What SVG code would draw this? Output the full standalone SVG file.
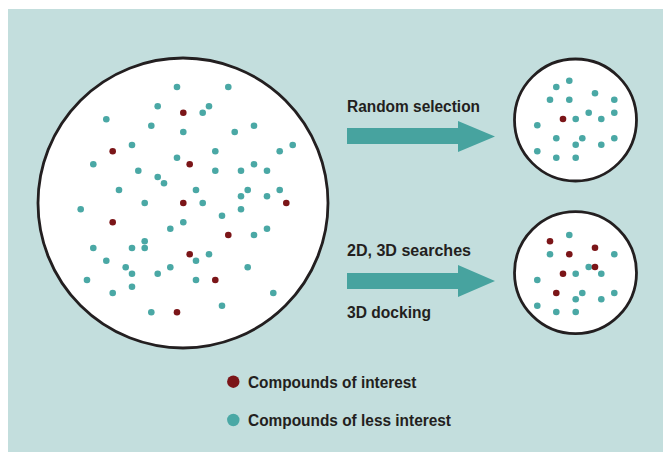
<svg xmlns="http://www.w3.org/2000/svg" width="663" height="452" viewBox="0 0 663 452">
<style>
.bg{fill:#c3dedd}
.pool{fill:#ffffff;stroke:#231f20;stroke-width:2.8}
.t{fill:#4aa8a5}
.r{fill:#7b1518}
.arrow{fill:#47a39f}
.lbl{font-family:"Liberation Sans Narrow","Liberation Sans",Arial,sans-serif;font-weight:bold;font-size:16px;fill:#231f20}
</style>
<defs>
<circle id="d" r="3.3"/>
</defs>
<rect class="bg" x="8" y="9" width="655" height="443"/>
<g id="library">
<circle class="pool" cx="183" cy="203" r="145"/>
<g class="t">
<use href="#d" x="177" y="87"/><use href="#d" x="157.7" y="106.3"/><use href="#d" x="106.3" y="119.3"/><use href="#d" x="151.3" y="125.7"/><use href="#d" x="183.3" y="132"/><use href="#d" x="132" y="145"/><use href="#d" x="177" y="157.7"/><use href="#d" x="93.3" y="164.3"/><use href="#d" x="138.3" y="170.7"/><use href="#d" x="157.7" y="177"/><use href="#d" x="164" y="183.3"/><use href="#d" x="119" y="190"/>
<use href="#d" x="228.3" y="87"/><use href="#d" x="209" y="106.3"/><use href="#d" x="202.7" y="112.7"/><use href="#d" x="234.7" y="132"/><use href="#d" x="254" y="125.7"/><use href="#d" x="215.3" y="151.3"/><use href="#d" x="279.7" y="151.3"/><use href="#d" x="292.7" y="145"/><use href="#d" x="215.3" y="170.7"/><use href="#d" x="241" y="170.7"/><use href="#d" x="254" y="164.3"/><use href="#d" x="267" y="170.7"/><use href="#d" x="196" y="190"/><use href="#d" x="247.7" y="190"/><use href="#d" x="279.7" y="190"/><use href="#d" x="241" y="196.3"/><use href="#d" x="267" y="196.3"/>
<use href="#d" x="144.7" y="203"/><use href="#d" x="80.7" y="209.3"/><use href="#d" x="183.3" y="222.3"/><use href="#d" x="170.3" y="228.7"/><use href="#d" x="144.7" y="241.3"/><use href="#d" x="93.3" y="248"/><use href="#d" x="132" y="248"/><use href="#d" x="144.7" y="248"/><use href="#d" x="106.3" y="260.7"/><use href="#d" x="125.7" y="267.3"/><use href="#d" x="132" y="273.7"/><use href="#d" x="157.7" y="273.7"/><use href="#d" x="170.3" y="267.3"/><use href="#d" x="87" y="280"/><use href="#d" x="132" y="286.7"/><use href="#d" x="112.7" y="293"/><use href="#d" x="151.3" y="312.3"/>
<use href="#d" x="202.7" y="203"/><use href="#d" x="222" y="215.7"/><use href="#d" x="241" y="209.3"/><use href="#d" x="254" y="235"/><use href="#d" x="267" y="228.7"/><use href="#d" x="209" y="254.3"/><use href="#d" x="196" y="260.7"/><use href="#d" x="247.7" y="267.3"/><use href="#d" x="196" y="280"/><use href="#d" x="273.3" y="293"/><use href="#d" x="222" y="305.7"/>
</g>
<g class="r">
<use href="#d" x="183.3" y="112.7"/><use href="#d" x="112.7" y="151.3"/><use href="#d" x="189.7" y="164.3"/><use href="#d" x="183.3" y="203"/><use href="#d" x="112.7" y="222.3"/><use href="#d" x="286.3" y="203"/><use href="#d" x="228.3" y="235"/><use href="#d" x="189.7" y="254.3"/><use href="#d" x="215.3" y="280"/><use href="#d" x="177" y="312.3"/>
</g>
</g>
<g id="random-subset">
<circle class="pool" cx="575.5" cy="120" r="61"/>
<g class="t">
<use href="#d" x="569.3" y="80.7"/><use href="#d" x="556.3" y="87"/><use href="#d" x="595" y="93.3"/><use href="#d" x="550" y="99.7"/><use href="#d" x="569.3" y="99.7"/><use href="#d" x="614.3" y="99.7"/><use href="#d" x="575.7" y="119"/><use href="#d" x="588.7" y="112.7"/><use href="#d" x="601.3" y="119"/><use href="#d" x="614.3" y="112.7"/><use href="#d" x="537.3" y="125.3"/><use href="#d" x="556.3" y="138.3"/><use href="#d" x="582.3" y="138.3"/><use href="#d" x="575.7" y="144.7"/><use href="#d" x="601.3" y="144.7"/><use href="#d" x="614.3" y="138.3"/><use href="#d" x="537.3" y="151.3"/><use href="#d" x="556.3" y="157.7"/><use href="#d" x="575.7" y="157.7"/>
</g>
<g class="r"><use href="#d" x="563" y="119"/></g>
</g>
<g id="focused-subset">
<circle class="pool" cx="575.5" cy="272.7" r="61"/>
<g class="t">
<use href="#d" x="569.3" y="235"/><use href="#d" x="550" y="254.3"/><use href="#d" x="614.3" y="254.3"/><use href="#d" x="588.7" y="267"/><use href="#d" x="575.7" y="273.7"/><use href="#d" x="601.3" y="273.7"/><use href="#d" x="537.3" y="280"/><use href="#d" x="582.3" y="293"/><use href="#d" x="575.7" y="299.3"/><use href="#d" x="601.3" y="299.3"/><use href="#d" x="614.3" y="293"/><use href="#d" x="537.3" y="305.7"/><use href="#d" x="556.3" y="312"/><use href="#d" x="575.7" y="312"/>
</g>
<g class="r">
<use href="#d" x="550" y="241.3"/><use href="#d" x="595" y="247.7"/><use href="#d" x="569.3" y="254.3"/><use href="#d" x="595" y="267"/><use href="#d" x="563" y="273.7"/><use href="#d" x="556.3" y="293"/>
</g>
</g>
<g id="connectors">
<polygon class="arrow" points="347,128 458,128 458,121 495,136.5 458,152 458,144 347,144"/>
<polygon class="arrow" points="347,273 458,273 458,265 495,281 458,297 458,289 347,289"/>
</g>
<g id="labels">
<text class="lbl" x="347" y="112" textLength="133" lengthAdjust="spacingAndGlyphs">Random selection</text>
<text class="lbl" x="347" y="256" textLength="124" lengthAdjust="spacingAndGlyphs">2D, 3D searches</text>
<text class="lbl" x="347" y="318" textLength="84" lengthAdjust="spacingAndGlyphs">3D docking</text>
</g>
<g id="legend">
<circle class="r" cx="233.3" cy="381.7" r="6.2"/>
<text class="lbl" x="248" y="387.5" textLength="168.5" lengthAdjust="spacingAndGlyphs">Compounds of interest</text>
<circle class="t" cx="233.3" cy="420" r="6.2"/>
<text class="lbl" x="248" y="426" textLength="203" lengthAdjust="spacingAndGlyphs">Compounds of less interest</text>
</g>
</svg>
